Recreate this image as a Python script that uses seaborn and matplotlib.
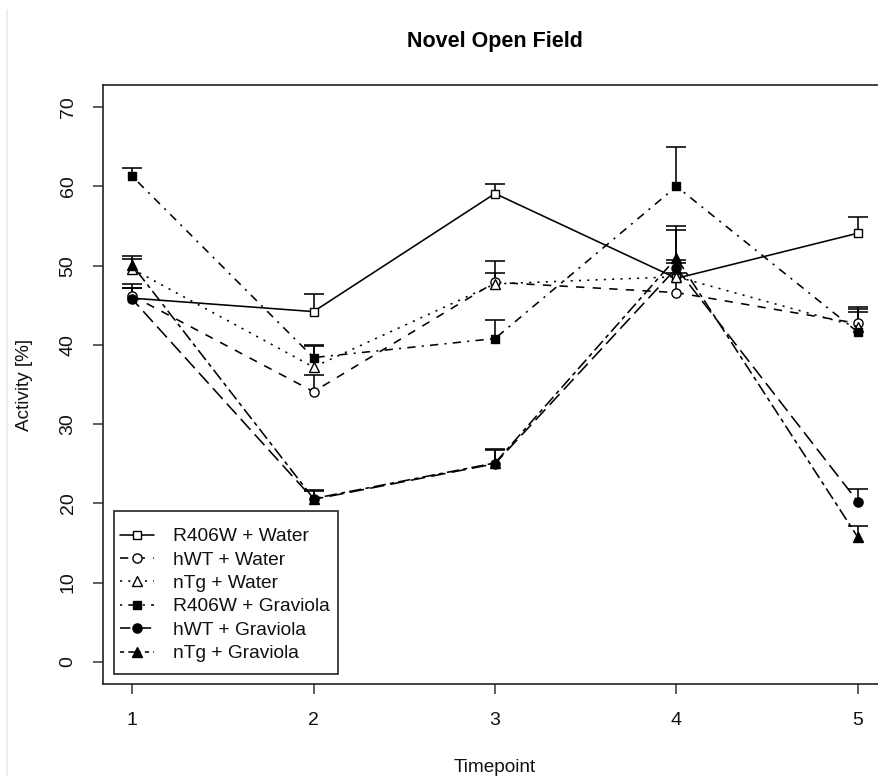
import matplotlib
matplotlib.use("Agg")
import matplotlib.pyplot as plt
from matplotlib.lines import Line2D
from matplotlib.patches import Rectangle
import numpy as np
import pandas as pd
import seaborn as sns

# Activity (%) per group at each timepoint, with upward SEM bars
timepoints = [1, 2, 3, 4, 5]
groups = ["R406W + Water", "hWT + Water", "nTg + Water",
          "R406W + Graviola", "hWT + Graviola", "nTg + Graviola"]

r406w_water = [45.9, 44.2, 59.1, 48.4, 54.1]
hwt_water = [46.2, 34.1, 47.9, 46.6, 42.7]
ntg_water = [49.6, 37.2, 47.7, 48.6, 42.3]
r406w_graviola = [61.3, 38.4, 40.8, 60.0, 41.6]
hwt_graviola = [45.8, 20.5, 25.0, 49.7, 20.2]
ntg_graviola = [50.1, 20.6, 25.1, 51.0, 15.7]

r406w_water_sem = [1.8, 2.2, 1.2, 1.9, 2.0]
hwt_water_sem = [1.0, 2.1, 2.7, 2.5, 2.1]
ntg_water_sem = [1.3, 2.6, 1.4, 2.1, 2.2]
r406w_graviola_sem = [1.0, 1.6, 2.3, 5.0, 2.5]
hwt_graviola_sem = [1.4, 1.0, 1.7, 4.8, 1.6]
ntg_graviola_sem = [1.1, 1.1, 1.8, 4.0, 1.5]

y_ticks = [0, 10, 20, 30, 40, 50, 60, 70]

means = [r406w_water, hwt_water, ntg_water,
         r406w_graviola, hwt_graviola, ntg_graviola]
sems = [r406w_water_sem, hwt_water_sem, ntg_water_sem,
        r406w_graviola_sem, hwt_graviola_sem, ntg_graviola_sem]

rows = []
for g, m, s in zip(groups, means, sems):
    for t, v, e in zip(timepoints, m, s):
        rows.append({"group": g, "timepoint": t, "activity": v, "sem": e})
df = pd.DataFrame(rows)

# R-like line types and plotting symbols
line_styles = {
    "R406W + Water": "-",
    "hWT + Water": (0, (4, 4)),
    "nTg + Water": (0, (1, 3)),
    "R406W + Graviola": (0, (1, 3, 4, 3)),
    "hWT + Graviola": (2, (7, 3)),
    "nTg + Graviola": (0, (2, 2, 6, 2)),
}
markers = {
    "R406W + Water": ("s", 5.8, "white"),
    "hWT + Water": ("o", 6.6, "white"),
    "nTg + Water": ("^", 7.6, "white"),
    "R406W + Graviola": ("s", 5.8, "black"),
    "hWT + Graviola": ("o", 6.6, "black"),
    "nTg + Graviola": ("^", 7.6, "black"),
}

sns.set_theme(style="ticks")
plt.rcParams["font.family"] = ["Liberation Sans", "DejaVu Sans"]
plt.rcParams["lines.scale_dashes"] = True
plt.rcParams["text.color"] = "black"

W, H = 879, 776
fig = plt.figure(figsize=(W / 100, H / 100), dpi=100)
ax = fig.add_axes([103 / W, 1 - 684 / H, (887 - 103) / W, (684 - 85) / H])

lw = 1.15
cap = 0.055
for g in groups:
    sub = df[df["group"] == g]
    x = sub["timepoint"].to_numpy()
    top = (sub["activity"] + sub["sem"]).to_numpy()
    ax.vlines(x, sub["activity"], top, color="black", lw=lw, zorder=2)
    ax.hlines(top, x - cap, x + cap, color="black", lw=lw, zorder=2)

for g in groups:
    sub = df[df["group"] == g]
    mk, ms, fc = markers[g]
    ls = line_styles[g]
    if ls != "-":
        ls = (ls[0] * 1.3, tuple(v * 1.3 for v in ls[1]))
    sns.lineplot(data=sub, x="timepoint", y="activity", ax=ax,
                 color="black", lw=lw, linestyle=ls,
                 marker=mk, ms=ms, mfc=fc, mec="black", mew=1.0,
                 label=g, errorbar=None, zorder=3)

ax.set_xlim(0.84, 5.16)
ax.set_ylim(-2.8, 72.8)
ax.set_xticks(timepoints)
ax.set_xticklabels([str(t) for t in timepoints])
ax.set_yticks(y_ticks)
ax.set_yticklabels([str(v) for v in y_ticks], rotation=90, va="center")

for sp in ax.spines.values():
    sp.set_visible(True)
    sp.set_color("#222222")
    sp.set_linewidth(1.2)

ax.tick_params(axis="both", direction="out", length=7, width=1.1,
               color="#333333", labelsize=14, labelcolor="#111111")
ax.tick_params(axis="x", pad=13)
ax.tick_params(axis="y", pad=12)

ax.set_xlabel("Timepoint", fontsize=13.7, labelpad=22, color="#111111")
ax.set_ylabel("Activity [%]", fontsize=13.7, labelpad=19, color="#111111")
ax.set_title("Novel Open Field", fontsize=15.5, fontweight="bold", pad=27,
             color="black")

# legend entries without their own frame, boxed by a plain rectangle
handles, labels = ax.get_legend_handles_labels()
leg = ax.legend(handles, labels, loc="upper left",
                bbox_to_anchor=(120 / W, 1 - 528 / H),
                bbox_transform=fig.transFigure, borderaxespad=0,
                fontsize=13.8, handlelength=1.75, handletextpad=1.0,
                labelspacing=0.31, borderpad=0, numpoints=1,
                frameon=False)
for txt in leg.get_texts():
    txt.set_color("#111111")
fig.add_artist(Rectangle((114 / W, 1 - 674 / H), (338 - 114) / W, (674 - 511) / H,
                         transform=fig.transFigure, facecolor="white",
                         edgecolor="#222222", lw=1.2, zorder=4))
leg.set_zorder(5)
fig.add_artist(leg)

# faint page edge on the left
fig.add_artist(Line2D([7 / W, 7 / W], [0, 1 - 10 / H],
                      transform=fig.transFigure, color="#ececf4", lw=1.5))

fig.savefig("out.png", dpi=100)
